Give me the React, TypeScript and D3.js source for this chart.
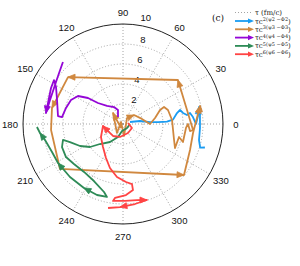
import React from 'react'
import * as d3 from 'd3'

const angleTicks = [0, 30, 60, 90, 120, 150, 180, 210, 240, 270, 300, 330]
const rTicks = [2, 4, 6, 8, 10]

// theta in degrees, rho in fm/c
const blueTheta = [16, 10, 4, 3, 3, 5, 11.5, 13.8, 10.4, 8, 9.3, 5.7, 0, 6.1, 12.6, 6.7, 357, 348, 343, 344]
const blueRho = [0.73, 1.73, 2.71, 3.51, 4.4, 5.02, 5.51, 5.87, 6.1, 6.46, 6.79, 7.03, 7.3, 7.54, 7.79, 7.75, 7.71, 7.77, 8.07, 8.52]
const blueArrows = [13]

const orangeTheta = [243, 132, 236, 135, 275, 56, 39, 15, 0, 10.6, 20.7, 22.5, 17.3, 4.7, 342.6, 335.2, 346.9, 343.3, 356.4, 0, 354, 355.1, 38.7, 139.5, 167.3, 184.8, 215.5, 320.1, 338.8, 352.7, 13.2, 8.6]
const orangeRho = [0.45, 1.49, 1.08, 0.28, 1.2, 0.72, 1.42, 1.96, 2.7, 3.26, 3.96, 4.44, 4.71, 4.92, 5.35, 5.73, 5.75, 6.26, 6.31, 6.5, 6.74, 7.03, 7.04, 7.23, 7.28, 7.22, 7.74, 7.95, 7.19, 7.06, 7.91, 7.99]
const orangeArrows = [0, 5, 21, 22, 23, 26, 29]

const purpleTheta = [125.5, 109.7, 117.9, 131.6, 140, 143.4, 148.1, 155.2, 164.3, 173.5, 173, 160, 151.1, 147.5, 153.4, 171.9, 161.8, 147.9, 141.4, 134.1]
const purpleRho = [0.86, 1.49, 1.92, 2.41, 3.27, 4.36, 5.3, 5.73, 5.92, 6.14, 6.55, 7.02, 7.65, 8.18, 8.05, 7.78, 7.68, 7.91, 8.18, 8.63]
const purpleArrows = [14]

const greenTheta = [0, 315, 261.9, 249, 234.2, 221, 214.9, 207.1, 198.8, 194.9, 200.7, 210.1, 219.2, 230.9, 243, 254.4, 257.6, 249.9, 238.6, 225, 211, 201.5, 191.6, 186.2, 182]
const greenRho = [0.7, 0.57, 0.71, 1.39, 2.22, 3.05, 4.02, 4.83, 5.6, 6.21, 6.52, 6.59, 6.33, 6.18, 6.4, 7.06, 7.47, 7.56, 7.49, 7.5, 7.58, 7.63, 7.96, 8.35, 8.61]
const greenArrows = [17, 19, 22]

const redTheta = [11.3, 336, 299, 257, 230.2, 200.6, 185.7, 210.6, 229, 243.4, 253.5, 263.5, 273, 278.5, 278.6, 272.4, 263.8, 262.6, 271.5, 280.4, 287.5, 278.5, 267.9, 259.9]
const redRho = [0.51, 0.98, 1.03, 1.33, 1.56, 1.71, 2.01, 2.56, 3.05, 3.8, 4.59, 5.33, 5.81, 6.07, 6.68, 7.11, 7.44, 7.76, 7.7, 7.73, 7.97, 8.09, 8.31, 8.53]
const redArrows = [5, 19, 21]

const legendLabels = ['2', '3', '4', '5', '6']

const series = [
  { theta: blueTheta, rho: blueRho, arrows: blueArrows, color: '#1a9cf2' },
  { theta: orangeTheta, rho: orangeRho, arrows: orangeArrows, color: '#d0883f' },
  { theta: purpleTheta, rho: purpleRho, arrows: purpleArrows, color: '#9406d6' },
  { theta: greenTheta, rho: greenRho, arrows: greenArrows, color: '#2e8b57' },
  { theta: redTheta, rho: redRho, arrows: redArrows, color: '#ff4444' },
]

const cx = 123
const cy = 124
const font = 'Liberation Sans, Arial, sans-serif'

const arrowHead = (x0: number, y0: number, x1: number, y1: number, len = 7, hw = 3) => {
  const a = Math.atan2(y1 - y0, x1 - x0)
  const bx = x1 - len * Math.cos(a), by = y1 - len * Math.sin(a)
  const px = -Math.sin(a) * hw, py = Math.cos(a) * hw
  return `M${x1},${y1}L${bx + px},${by + py}L${bx - px},${by - py}Z`
}

const App = () => {
  const width = 300
  const height = 266
  const r = d3.scaleLinear().domain([0, 10]).range([0, 100])
  const toRad = (d: number) => (d * Math.PI) / 180
  const px = (t: number, p: number) => cx + r(p) * Math.cos(toRad(t))
  const py = (t: number, p: number) => cy - r(p) * Math.sin(toRad(t))

  const line = d3.line<number>()
  const dotted = { stroke: '#9a9a9a', strokeWidth: 0.9, strokeDasharray: '1,2', fill: 'none' }

  return (
    <svg width={width} height={height} style={{ position: 'absolute', left: 0, top: 0, background: '#fff' }}>
      {rTicks.slice(0, -1).map((t) => (
        <circle key={t} cx={cx} cy={cy} r={r(t)} {...dotted} />
      ))}
      {angleTicks.map((a) => (
        <line key={a} x1={cx} y1={cy} x2={px(a, 10)} y2={py(a, 10)} {...dotted} />
      ))}
      <circle cx={cx} cy={cy} r={r(10)} fill="none" stroke="#222" strokeWidth={1} />
      {angleTicks.map((a) => (
        <text key={a} x={cx + 113 * Math.cos(toRad(a))} y={cy - 112 * Math.sin(toRad(a))}
          textAnchor="middle" dominantBaseline="central" fontSize={9.5} fontFamily={font} fill="#111">{a}</text>
      ))}
      {rTicks.map((t) => (
        <text key={t} x={px(81.5, t) + 8} y={py(81.5, t) - 5 - (t === 10 ? 3 : 0)}
          textAnchor="middle" dominantBaseline="central" fontSize={9.5} fontFamily={font} fill="#111">{t}</text>
      ))}

      {series.map((s, i) => {
        const pts = s.theta.map((t, k) => [px(t, s.rho[k]), py(t, s.rho[k])] as [number, number])
        return (
          <g key={i}>
            <path d={d3.line()(pts) || ''} fill="none" stroke={s.color} strokeWidth={1.8} strokeLinejoin="round" />
            {s.arrows.map((k) => (
              <path key={k} d={arrowHead(pts[k][0], pts[k][1], pts[k + 1][0], pts[k + 1][1])} fill={s.color} stroke={s.color} strokeWidth={0.8} />
            ))}
          </g>
        )
      })}

      <text x={218} y={18} textAnchor="middle" dominantBaseline="central" fontSize={9} fontFamily="DejaVu Serif, serif" fill="#111">(c)</text>
      <g fontFamily="DejaVu Serif, serif" fontSize={7} fill="#222">
        <line x1={235} x2={253} y1={12.5} y2={12.5} {...dotted} />
        <text x={255} y={12.5} dominantBaseline="central">τ (fm/c)</text>
        {series.map((s, i) => {
          const y = 21 + i * 8.3
          return (
            <g key={i}>
              <line x1={235} x2={249} y1={y} y2={y} stroke={s.color} strokeWidth={1.8} />
              <path d={arrowHead(235, y, 254, y, 6, 2.6)} fill={s.color} />
              <text x={255} y={y + 2.5}>
                <tspan>τc</tspan>
                <tspan dy={-2.5} fontSize={5}>{`${legendLabels[i]}(ψ${legendLabels[i]} −Φ${legendLabels[i]}`}</tspan>
                <tspan dy={2.5}>)</tspan>
              </text>
            </g>
          )
        })}
      </g>
    </svg>
  )
}

export default App
